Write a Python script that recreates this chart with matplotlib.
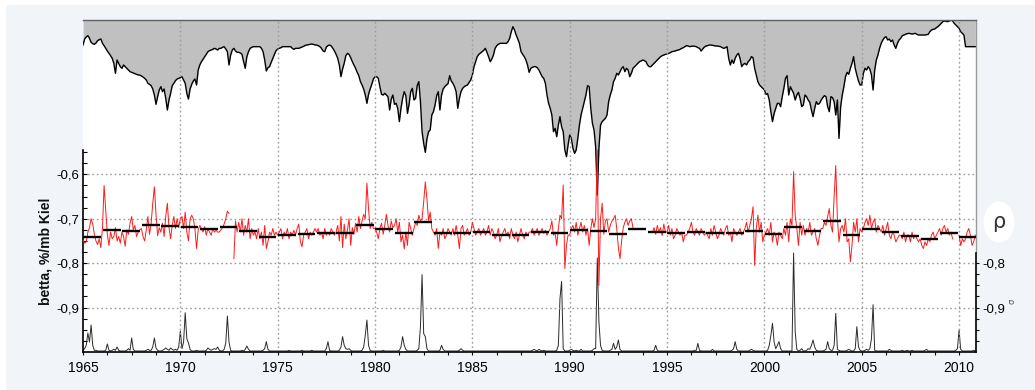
import numpy as np
import matplotlib
matplotlib.use("Agg")
import matplotlib.pyplot as plt
from matplotlib.patches import Ellipse, Rectangle
from matplotlib.ticker import FixedLocator, MultipleLocator, FuncFormatter, NullFormatter

# ---------------------------------------------------------------- data
START_YEAR = 1965
years = np.arange(1965, 2011)

# monthly betta coefficient (%/mb, Kiel), one row per year
betta_rows = [
    [-0.748, -0.755, -0.752, -0.730, -0.720, -0.700, -0.712, -0.735, -0.750, -0.758, -0.745, -0.765],  # 1965
    [-0.720, -0.625, -0.680, -0.735, -0.760, -0.730, -0.745, -0.740, -0.720, -0.750, -0.740, -0.755],
    [-0.730, -0.740, -0.762, -0.725, -0.735, -0.710, -0.695, -0.725, -0.715, -0.740, -0.730, -0.725],
    [-0.722, -0.740, -0.750, -0.725, -0.695, -0.735, -0.710, -0.665, -0.628, -0.690, -0.738, -0.720],
    [-0.730, -0.710, -0.740, -0.695, -0.665, -0.720, -0.745, -0.715, -0.695, -0.722, -0.700, -0.720],
    [-0.700, -0.695, -0.722, -0.685, -0.730, -0.750, -0.700, -0.692, -0.700, -0.722, -0.767, -0.725],  # 1970
    [-0.715, -0.722, -0.730, -0.718, -0.737, -0.722, -0.730, -0.737, -0.722, -0.730, -0.726, -0.730],
    [-0.730, -0.725, -0.720, -0.712, -0.700, -0.683, -0.688, np.nan, np.nan, -0.790, -0.705, -0.730],
    [-0.708, -0.730, -0.700, -0.737, -0.715, -0.730, -0.700, -0.745, -0.722, -0.737, -0.730, -0.745],
    [-0.722, -0.745, -0.730, -0.760, -0.715, -0.767, -0.752, -0.730, -0.737, -0.722, -0.737, -0.730],
    [-0.737, -0.730, -0.722, -0.745, -0.730, -0.737, -0.722, -0.745, -0.730, -0.737, -0.726, -0.737],  # 1975
    [-0.722, -0.712, -0.752, -0.763, -0.737, -0.730, -0.722, -0.745, -0.730, -0.737, -0.730, -0.722],
    [-0.730, -0.722, -0.737, -0.730, -0.745, -0.722, -0.737, -0.730, -0.737, -0.722, -0.730, -0.737],
    [-0.730, -0.715, -0.750, -0.695, -0.765, -0.712, -0.745, -0.725, -0.700, -0.760, -0.720, -0.735],
    [-0.710, -0.730, -0.695, -0.722, -0.705, -0.690, -0.700, -0.620, -0.677, -0.722, -0.708, -0.722],
    [-0.722, -0.730, -0.745, -0.722, -0.710, -0.735, -0.715, -0.690, -0.715, -0.730, -0.705, -0.720],  # 1980
    [-0.715, -0.700, -0.730, -0.708, -0.752, -0.737, -0.768, -0.730, -0.760, -0.708, -0.722, -0.737],
    [-0.722, -0.708, -0.715, -0.692, -0.705, -0.700, -0.662, -0.617, -0.655, -0.705, -0.685, -0.722],
    [-0.730, -0.737, -0.722, -0.767, -0.730, -0.737, -0.722, -0.745, -0.737, -0.722, -0.730, -0.737],
    [-0.722, -0.737, -0.715, -0.737, -0.767, -0.722, -0.715, -0.737, -0.730, -0.722, -0.737, -0.730],
    [-0.708, -0.722, -0.737, -0.730, -0.722, -0.737, -0.730, -0.722, -0.737, -0.730, -0.715, -0.737],  # 1985
    [-0.722, -0.730, -0.745, -0.737, -0.722, -0.752, -0.737, -0.730, -0.722, -0.737, -0.730, -0.745],
    [-0.722, -0.737, -0.745, -0.730, -0.752, -0.737, -0.722, -0.737, -0.745, -0.730, -0.737, -0.730],
    [-0.730, -0.722, -0.737, -0.730, -0.722, -0.737, -0.730, -0.722, -0.733, -0.726, -0.737, -0.730],
    [-0.722, -0.705, -0.737, -0.730, -0.760, -0.722, -0.692, -0.700, -0.624, -0.812, -0.760, -0.737],
    [-0.737, -0.722, -0.715, -0.730, -0.708, -0.737, -0.722, -0.708, -0.730, -0.715, -0.737, -0.722],  # 1990
    [-0.760, -0.722, -0.700, -0.720, -0.700, -0.545, -0.850, -0.700, -0.665, -0.735, -0.705, -0.700],
    [-0.730, -0.715, -0.705, -0.700, -0.692, -0.722, -0.765, -0.790, -0.750, -0.720, -0.708, -0.700],
    [-0.715, -0.705, -0.700, -0.720, np.nan, np.nan, np.nan, np.nan, np.nan, np.nan, np.nan, np.nan],
    [np.nan, np.nan, np.nan, -0.730, -0.720, -0.735, -0.715, -0.730, -0.720, -0.738, -0.712, -0.730],
    [-0.730, -0.715, -0.737, -0.722, -0.745, -0.737, -0.722, -0.730, -0.737, -0.730, -0.752, -0.737],  # 1995
    [-0.737, -0.730, -0.722, -0.708, -0.730, -0.737, -0.722, -0.730, -0.737, -0.722, -0.730, -0.737],
    [-0.730, -0.737, -0.745, -0.722, -0.737, -0.715, -0.730, -0.745, -0.737, -0.722, -0.730, -0.737],
    [-0.722, -0.715, -0.737, -0.730, -0.752, -0.722, -0.730, -0.737, -0.730, -0.722, -0.737, -0.730],
    [-0.722, -0.708, -0.730, -0.715, -0.700, -0.673, -0.805, -0.722, -0.692, -0.730, -0.708, -0.752],
    [-0.737, -0.730, -0.722, -0.737, -0.708, -0.752, -0.730, -0.737, -0.760, -0.730, -0.737, -0.745],  # 2000
    [-0.722, -0.737, -0.708, -0.752, -0.700, -0.715, -0.594, -0.692, -0.722, -0.760, -0.708, -0.737],
    [-0.715, -0.737, -0.722, -0.730, -0.708, -0.737, -0.730, -0.722, -0.745, -0.760, -0.737, -0.722],
    [-0.722, -0.708, -0.715, -0.695, -0.677, -0.715, -0.730, -0.650, -0.580, -0.700, -0.752, -0.722],
    [-0.715, -0.730, -0.700, -0.752, -0.745, -0.797, -0.760, -0.708, -0.730, -0.700, -0.752, -0.722],
    [-0.730, -0.722, -0.708, -0.700, -0.715, -0.692, -0.722, -0.708, -0.700, -0.730, -0.715, -0.722],  # 2005
    [-0.730, -0.715, -0.737, -0.722, -0.708, -0.737, -0.745, -0.730, -0.737, -0.752, -0.745, -0.737],
    [-0.737, -0.745, -0.730, -0.752, -0.737, -0.737, -0.752, -0.730, -0.745, -0.737, -0.745, -0.752],
    [-0.745, -0.760, -0.767, -0.752, -0.760, -0.745, -0.752, -0.737, -0.730, -0.745, -0.737, -0.730],
    [-0.722, -0.737, -0.722, -0.715, -0.730, -0.722, -0.737, -0.730, -0.745, np.nan, np.nan, np.nan],
    [-0.737, -0.760, -0.745, -0.752, -0.745, -0.730, -0.722, -0.737, -0.760, -0.752, -0.737],  # 2010
]

# annual mean betta
betta_annual = [
    -0.740, -0.726, -0.728, -0.715, -0.716, -0.718, -0.722, -0.718, -0.728, -0.741,
    -0.737, -0.735, -0.733, -0.731, -0.715, -0.722, -0.731, -0.7075, -0.733, -0.733,
    -0.729, -0.736, -0.736, -0.729, -0.731, -0.726, -0.728, -0.735, -0.723, -0.729,
    -0.733, -0.729, -0.733, -0.733, -0.728, -0.735, -0.718, -0.728, -0.705, -0.737,
    -0.723, -0.729, -0.739, -0.745, -0.731, -0.740,
]

# monthly background level (upper shaded curve, relative units 0..99.6)
level_rows = [
    [92.1, 93.9, 94.5, 94.9, 94.1, 92.9, 92.5, 92.3, 92.7, 93.4, 93.7, 93.9],  # 1965
    [92.6, 91.9, 91.1, 90.3, 89.6, 88.9, 88.1, 86.6, 83.6, 87.6, 86.6, 85.6],
    [85.1, 86.1, 85.6, 85.1, 84.6, 84.1, 83.9, 83.7, 83.5, 83.3, 83.1, 83.1],
    [82.8, 82.5, 82.1, 81.6, 80.6, 80.3, 79.9, 78.9, 77.1, 74.3, 76.6, 78.6],
    [79.6, 78.1, 78.9, 76.1, 72.6, 75.6, 77.6, 79.9, 80.6, 81.4, 81.9, 82.1],
    [82.3, 82.6, 81.6, 80.6, 77.6, 75.9, 78.9, 80.3, 81.3, 81.9, 80.1, 84.6],  # 1970
    [86.1, 87.1, 87.8, 88.6, 89.3, 90.1, 90.4, 90.6, 90.8, 91.1, 90.9, 90.6],
    [91.1, 91.1, 91.4, 91.6, 90.9, 90.1, 86.1, 89.1, 90.6, 91.1, 90.3, 89.9],
    [89.9, 89.7, 89.3, 87.1, 85.1, 88.6, 90.1, 91.1, 91.4, 91.6, 91.6, 91.6],
    [91.6, 91.6, 91.1, 90.1, 87.6, 84.3, 85.3, 85.6, 86.9, 88.1, 89.3, 90.4],
    [90.9, 91.1, 91.3, 91.6, 91.6, 91.6, 91.6, 91.6, 91.6, 91.1, 90.8, 91.1],  # 1975
    [91.1, 91.1, 91.3, 91.5, 91.7, 92.0, 92.1, 92.2, 92.3, 92.4, 92.3, 92.1],
    [92.1, 91.9, 91.6, 91.1, 90.3, 90.1, 91.5, 91.9, 92.1, 91.8, 91.1, 90.3],
    [89.3, 88.1, 86.1, 82.6, 84.9, 86.6, 88.9, 89.6, 89.3, 88.3, 87.1, 86.1],
    [85.1, 83.9, 82.9, 81.1, 80.1, 78.9, 77.1, 74.6, 77.3, 78.9, 80.3, 81.9],
    [82.6, 82.6, 82.1, 79.6, 77.3, 77.1, 77.6, 77.1, 76.6, 72.6, 75.9, 77.1],  # 1980
    [74.3, 74.6, 73.1, 69.1, 73.1, 76.1, 78.1, 76.9, 71.6, 74.3, 78.1, 79.1],
    [75.6, 76.1, 79.9, 81.1, 75.1, 66.1, 62.6, 59.9, 63.9, 66.1, 66.6, 71.1],
    [72.1, 74.1, 76.9, 78.1, 72.6, 77.1, 78.9, 79.6, 80.1, 80.5, 82.9, 81.3],
    [80.6, 79.6, 78.1, 73.1, 76.1, 78.1, 79.1, 79.6, 79.9, 80.1, 80.9, 81.6],
    [83.1, 85.6, 87.1, 88.6, 89.3, 89.7, 90.1, 90.5, 91.1, 89.9, 88.6, 87.1],  # 1985
    [87.9, 89.1, 91.1, 91.9, 92.3, 92.6, 92.6, 92.6, 92.6, 92.6, 93.1, 94.1],
    [96.1, 97.6, 96.6, 95.1, 93.9, 92.6, 90.1, 89.3, 88.6, 87.6, 86.1, 83.9],
    [85.1, 85.4, 85.6, 85.6, 85.3, 84.6, 83.6, 82.6, 82.1, 80.6, 77.1, 74.6],
    [73.1, 71.1, 66.1, 67.1, 64.6, 68.1, 70.6, 67.6, 66.1, 60.6, 58.6, 62.1],
    [65.1, 64.1, 61.1, 59.6, 60.6, 64.1, 68.1, 71.1, 73.1, 75.1, 77.1, 79.9],  # 1990
    [79.6, 73.1, 68.6, 66.6, 61.6, 47.1, 61.1, 68.1, 69.1, 69.6, 70.1, 71.1],
    [75.1, 77.1, 78.6, 81.1, 82.1, 83.6, 83.1, 84.1, 85.1, 85.6, 84.1, 85.1],
    [84.6, 82.6, 83.6, 85.1, 85.6, 86.1, 86.6, 87.1, 87.3, 87.6, 87.4, 87.1],
    [86.1, 85.6, 85.6, 86.1, 86.6, 87.1, 87.6, 88.1, 88.6, 88.9, 89.1, 89.3],
    [89.4, 89.6, 89.8, 90.1, 90.2, 90.3, 90.5, 90.6, 90.8, 91.1, 91.3, 91.6],  # 1995
    [91.9, 91.8, 91.6, 91.7, 91.8, 91.7, 91.6, 91.3, 91.1, 90.3, 90.9, 91.5],
    [91.8, 91.9, 92.1, 92.1, 92.0, 91.9, 91.8, 91.8, 91.7, 91.6, 91.3, 91.1],
    [91.3, 91.6, 88.1, 86.1, 87.6, 86.6, 88.1, 89.1, 89.6, 88.1, 85.6, 86.3],
    [86.6, 86.1, 87.1, 87.6, 88.6, 88.3, 85.1, 83.1, 81.1, 80.1, 79.6, 79.1],
    [78.6, 77.3, 77.5, 75.6, 72.1, 69.1, 71.6, 73.1, 74.6, 74.6, 73.6, 76.6],  # 2000
    [79.1, 82.1, 82.9, 77.1, 79.6, 78.6, 77.6, 75.6, 77.1, 77.9, 76.1, 73.6],
    [74.1, 77.1, 76.6, 75.6, 74.9, 72.6, 70.6, 73.1, 75.1, 74.3, 74.6, 75.6],
    [76.3, 76.9, 76.6, 73.6, 72.1, 76.6, 76.3, 75.1, 71.1, 75.6, 64.1, 73.6],
    [77.1, 79.6, 82.6, 83.9, 83.3, 85.1, 86.6, 88.6, 85.1, 83.1, 81.3, 80.1],
    [80.1, 83.6, 85.1, 84.6, 85.6, 84.9, 83.1, 78.6, 84.6, 87.6, 89.1, 91.1],  # 2005
    [92.6, 93.6, 94.3, 94.6, 93.6, 93.9, 93.1, 93.6, 92.1, 91.1, 92.6, 93.6],
    [94.1, 94.9, 95.1, 95.3, 95.5, 95.6, 95.5, 95.4, 95.5, 95.6, 95.3, 95.1],
    [95.1, 95.1, 95.1, 95.1, 95.2, 95.3, 96.1, 96.6, 96.8, 96.9, 97.3, 97.6],
    [98.1, 98.6, 99.1, 99.3, 99.2, 99.1, 99.3, 99.6, 99.3, 98.6, 98.1, 97.6],
    [97.1, 96.1, 95.6, 95.1, 91.6, 91.6, 91.6, 91.6, 91.6, 91.6, 91.6],  # 2010
]

# monthly scatter sigma (lower curve, same relative units)
sigma_rows = [
    [0.5, 1.0, 2.0, 5.7, 3.0, 8.1, 2.0, 0.5, 0.5, 0.3, 0.3, 0.3],  # 1965
    [0.3, 0.3, 0.5, 2.4, 0.5, 0.3, 0.5, 0.8, 0.5, 1.5, 0.5, 0.3],
    [0.3, 0.3, 0.3, 0.5, 1.0, 0.5, 4.2, 0.8, 0.3, 0.3, 0.3, 0.3],
    [0.3, 0.3, 0.3, 0.5, 0.8, 0.5, 0.5, 1.5, 4.2, 1.2, 0.5, 0.3],
    [0.3, 0.5, 0.8, 1.2, 0.8, 0.5, 1.2, 0.8, 0.5, 0.8, 0.5, 1.5],
    [6.3, 1.0, 3.0, 11.8, 4.0, 2.7, 0.8, 0.3, 0.3, 0.3, 0.5, 0.3],  # 1970
    [0.3, 0.3, 0.3, 0.3, 0.5, 1.2, 0.8, 0.5, 0.8, 1.0, 0.8, 1.5],
    [0.5, 0.3, 0.3, 0.8, 2.7, 10.8, 3.0, 0.5, 0.3, 0.3, 0.3, 0.3],
    [0.3, 0.3, 0.5, 0.3, 0.8, 1.8, 0.8, 0.3, 0.3, 0.3, 0.3, 0.3],
    [0.3, 0.3, 0.3, 0.5, 1.0, 3.1, 0.8, 0.3, 0.3, 0.3, 0.3, 0.3],
    [0.3, 0.3, 0.3, 0.3, 0.3, 0.3, 0.3, 0.5, 0.3, 0.3, 0.3, 0.3],  # 1975
    [0.3, 0.3, 0.3, 0.5, 0.3, 0.3, 0.3, 0.3, 0.3, 0.5, 0.3, 0.3],
    [0.3, 0.3, 0.3, 0.3, 0.3, 0.3, 1.0, 3.1, 0.5, 0.3, 0.3, 0.3],
    [0.3, 0.3, 0.5, 1.5, 4.6, 2.0, 1.0, 0.8, 1.0, 0.5, 0.3, 0.3],
    [0.3, 0.3, 0.3, 0.3, 0.5, 1.5, 5.0, 9.6, 2.0, 0.5, 0.3, 0.3],
    [0.3, 0.3, 0.3, 0.3, 0.3, 0.5, 0.3, 0.3, 0.3, 0.3, 0.3, 0.3],  # 1980
    [0.3, 0.3, 0.3, 0.5, 1.5, 4.6, 2.0, 0.8, 0.3, 0.3, 0.3, 0.3],
    [0.3, 0.3, 0.5, 1.0, 7.6, 23.2, 5.5, 4.6, 1.0, 0.3, 0.3, 0.3],
    [0.3, 0.3, 0.3, 0.3, 0.5, 2.0, 0.8, 0.3, 0.3, 0.3, 0.3, 0.3],
    [0.3, 0.3, 0.3, 0.3, 0.5, 1.0, 0.5, 0.3, 0.3, 0.3, 0.3, 0.3],
    [0.3, 0.3, 0.3, 0.3, 0.3, 0.3, 0.3, 0.3, 0.3, 0.3, 0.3, 0.3],  # 1985
    [0.3, 0.3, 0.3, 0.3, 0.3, 0.3, 0.3, 0.3, 0.3, 0.3, 0.3, 0.3],
    [0.3, 0.3, 0.3, 0.3, 0.3, 0.3, 0.3, 0.3, 0.3, 0.3, 0.3, 0.3],
    [0.3, 0.5, 0.8, 0.5, 0.3, 0.8, 0.5, 0.3, 0.5, 0.3, 0.3, 0.3],
    [0.3, 0.3, 0.3, 0.3, 0.5, 2.0, 16.0, 21.2, 1.0, 0.3, 0.3, 0.3],
    [0.5, 0.8, 0.5, 0.3, 0.5, 0.3, 0.3, 0.8, 0.3, 0.3, 0.3, 0.3],  # 1990
    [0.3, 0.3, 0.5, 1.0, 1.0, 28.2, 9.1, 2.0, 0.5, 0.3, 0.3, 0.3],
    [0.3, 0.5, 0.8, 2.6, 0.8, 1.5, 3.6, 0.8, 0.3, 0.3, 0.3, 0.3],
    [0.3, 0.3, 0.3, 0.3, 0.3, 0.3, 0.3, 0.3, 0.3, 0.3, 0.3, 0.3],
    [0.3, 0.3, 0.3, 0.3, 0.5, 2.0, 0.5, 0.3, 0.3, 0.3, 0.3, 0.3],
    [0.3, 0.3, 0.3, 0.3, 0.3, 0.3, 0.3, 0.3, 0.3, 0.3, 0.3, 0.3],  # 1995
    [0.3, 0.3, 0.3, 0.3, 0.3, 0.5, 0.5, 2.6, 0.5, 0.3, 0.3, 0.3],
    [0.3, 0.3, 0.3, 0.3, 0.8, 0.3, 0.3, 0.3, 0.3, 0.3, 0.3, 0.3],
    [0.3, 0.3, 0.3, 0.3, 0.5, 1.0, 3.1, 0.8, 0.3, 0.3, 0.3, 0.3],
    [0.3, 0.3, 0.3, 0.5, 0.8, 0.5, 0.3, 0.3, 0.3, 0.3, 0.3, 0.3],
    [0.3, 0.3, 0.5, 2.0, 5.0, 8.6, 3.0, 1.0, 2.0, 3.1, 1.0, 0.3],  # 2000
    [0.3, 0.3, 0.3, 0.3, 0.3, 0.3, 29.7, 6.0, 0.8, 0.3, 0.5, 1.0],
    [0.3, 0.3, 0.5, 1.0, 0.8, 2.0, 3.6, 1.5, 0.5, 0.3, 0.3, 0.3],
    [0.3, 0.5, 0.8, 3.1, 1.0, 0.5, 0.5, 2.0, 11.6, 0.8, 0.5, 0.3],
    [0.3, 0.3, 0.3, 0.5, 0.8, 0.5, 0.3, 0.3, 1.0, 7.6, 1.5, 0.5],
    [0.3, 0.3, 0.5, 0.8, 0.5, 1.0, 4.0, 14.2, 0.5, 0.3, 0.3, 0.3],  # 2005
    [0.3, 0.3, 0.3, 0.3, 0.3, 0.8, 0.5, 0.3, 0.3, 0.3, 0.3, 0.3],
    [0.3, 0.5, 0.3, 0.3, 0.5, 0.3, 0.3, 0.5, 0.3, 0.3, 0.3, 0.3],
    [0.3, 0.3, 0.3, 0.5, 0.8, 0.3, 0.3, 0.3, 0.3, 0.3, 0.3, 0.3],
    [0.3, 0.3, 0.3, 0.3, 0.3, 0.3, 0.3, 0.3, 0.3, 0.3, 0.5, 1.0],
    [6.6, 0.8, 0.3, 0.3, 0.3, 0.3, 0.3, 0.3, 0.3, 0.5, 0.3],  # 2010
]

x_ticks = [1965, 1970, 1975, 1980, 1985, 1990, 1995, 2000, 2005, 2010]
left_ticks = [-0.9, -0.8, -0.7, -0.6]
right_ticks = [-0.9, -0.8]
y_label = "betta, %/mb Kiel"

# ---------------------------------------------------------------- series
betta = np.concatenate([np.asarray(r, float) for r in betta_rows])
level = np.concatenate([np.asarray(r, float) for r in level_rows])
sigma = np.concatenate([np.asarray(r, float) for r in sigma_rows])
t = START_YEAR + np.arange(betta.size) / 12.0

FONT = ["Liberation Sans", "DejaVu Sans"]
plt.rcParams["font.family"] = FONT
X_TICK_SIZE = 10
Y_TICK_SIZE = 9.5

W, H = 1035, 390
fig = plt.figure(figsize=(W / 100, H / 100), dpi=100, facecolor="white")

# light panel behind the chart
fig.patches.append(Rectangle((6 / W, 0), 1.0, 1 - 5 / H, transform=fig.transFigure,
                             facecolor="#F1F4F9", edgecolor="none", zorder=0))

rect = [83 / W, 1 - 352 / H, (976 - 83) / W, (352 - 20) / H]
ax = fig.add_axes(rect)          # betta scale (left)
ax_bg = ax.twinx()               # level / sigma curves
ax_r = ax.twinx()                # right-hand betta ticks

Y0, Y1 = -1.0, -0.2525
X0, X1 = 1965.0, 2010.87

# ---- background curves
ax_bg.set_zorder(1)
ax.set_zorder(2)
ax_r.set_zorder(3)
ax_bg.patch.set_visible(True)
ax_bg.patch.set_facecolor("white")
ax.patch.set_visible(False)
ax_r.patch.set_visible(False)

ax_bg.set_ylim(0, 99.6)
ax_bg.fill_between(t, level, 120, color="#C0C0C0", linewidth=0)
ax_bg.plot(t, level, color="black", lw=1.0)
ax_bg.plot(t, sigma, color="#2a2a2a", lw=0.7)
for s in ("left", "top", "bottom"):
    ax_bg.spines[s].set_visible(False)
ax_bg.spines["right"].set_color("#9a9a9a")
ax_bg.spines["right"].set_linewidth(1.0)
ax_bg.spines["right"].set_bounds(30.1, 99.6)
ax_bg.set_yticks([])
ax_bg.tick_params(axis="x", which="both", bottom=False, labelbottom=False)

# ---- betta: monthly values and annual means
ax.set_xlim(X0, X1)
ax.set_ylim(Y0, Y1)
ax.plot(t, betta, color="#ff1a1a", lw=0.7, zorder=3)
yrs = np.asarray(years, float)
ax.hlines(betta_annual, yrs + 0.02, yrs + 0.93, color="black", lw=1.7, zorder=4)

grid_kw = dict(color="#9c9c9c", lw=1.0, linestyle=(0, (1.2, 2.0)), zorder=1)
for yv in left_ticks:
    ax.axhline(yv, **grid_kw)
for xv in x_ticks[1:]:
    ax.axvline(xv, **grid_kw)

ax.spines["right"].set_visible(False)
ax.spines["top"].set_color("#606060")
ax.spines["top"].set_linewidth(1.0)
ax.spines["left"].set_bounds(Y0, -0.545)
ax.spines["left"].set_linewidth(1.2)
ax.spines["bottom"].set_linewidth(1.2)

ax.xaxis.set_major_locator(FixedLocator(x_ticks))
ax.xaxis.set_minor_locator(MultipleLocator(1.25))
ax.tick_params(axis="x", which="both", direction="out", length=2.5, width=0.8,
               labelsize=X_TICK_SIZE, pad=4, colors="black")

comma = FuncFormatter(lambda v, p: f"{v:.1f}".replace(".", ","))
ax.yaxis.set_major_locator(FixedLocator(left_ticks))
ax.yaxis.set_major_formatter(comma)
ax.yaxis.set_minor_locator(FixedLocator(np.arange(-0.975, -0.545, 0.025)))
ax.tick_params(axis="y", which="both", direction="in", length=3, width=0.8,
               labelsize=Y_TICK_SIZE, pad=3, colors="black")

# ---- right-hand betta scale
ax_r.set_ylim(Y0, Y1)
for s in ("left", "top", "bottom"):
    ax_r.spines[s].set_visible(False)
ax_r.spines["right"].set_bounds(Y0, -0.776)
ax_r.spines["right"].set_linewidth(1.2)
ax_r.yaxis.set_major_locator(FixedLocator(right_ticks))
ax_r.yaxis.set_major_formatter(comma)
ax_r.yaxis.set_minor_locator(FixedLocator(np.arange(-0.975, -0.776, 0.025)))
ax_r.yaxis.set_minor_formatter(NullFormatter())
ax_r.tick_params(axis="y", which="both", direction="out", length=2.5, width=0.8,
                 labelsize=Y_TICK_SIZE, pad=2, colors="black")

# ---- labels and symbols
fig.text(45 / W, 1 - 251 / H, y_label, rotation=90, ha="center", va="center",
         fontsize=10, fontweight="bold", color="#111111")

fig.patches.append(Ellipse((999 / W, 1 - 222 / H), 31 / W, 41 / H,
                           transform=fig.transFigure, facecolor="white",
                           edgecolor="none", zorder=1))
fig.text(999 / W, 1 - 222 / H, "ρ", ha="center", va="center", fontsize=15,
         color="#333333", family=["DejaVu Sans"], zorder=2)
fig.text(1012 / W, 1 - 301 / H, "σ", ha="center", va="center", fontsize=6,
         rotation=90, color="#555555", family=["DejaVu Sans"])

fig.savefig("out.png", dpi=100, facecolor=fig.get_facecolor())
